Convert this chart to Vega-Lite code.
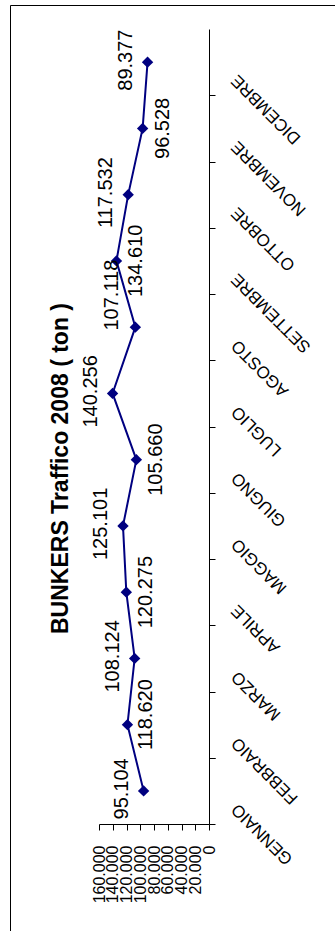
{
  "$schema": "https://vega.github.io/schema/vega-lite/v6.json",
  "width": 326,
  "height": 927,
  "autosize": {"type": "none"},
  "padding": {"left": 10, "top": 5, "right": -1, "bottom": -1},
  "background": "white",
  "config": {
    "locale": {"number": {"decimal": ",", "thousands": ".", "grouping": [3], "currency": ["€", ""]}},
    "view": {"stroke": "black", "strokeWidth": 1},
    "font": "Liberation Sans"
  },
  "title": {"text": "BUNKERS Traffico 2008 ( ton )", "orient": "left", "anchor": "middle", "offset": -63, "fontSize": 23, "fontWeight": "bold", "font": "Liberation Sans", "color": "black"},
  "data": {"values": [
    {"month": "GENNAIO", "value": 95104},
    {"month": "FEBBRAIO", "value": 118620},
    {"month": "MARZO", "value": 108124},
    {"month": "APRILE", "value": 120275},
    {"month": "MAGGIO", "value": 125101},
    {"month": "GIUGNO", "value": 105660},
    {"month": "LUGLIO", "value": 140256},
    {"month": "AGOSTO", "value": 107118},
    {"month": "SETTEMBRE", "value": 134610},
    {"month": "OTTOBRE", "value": 117532},
    {"month": "NOVEMBRE", "value": 96528},
    {"month": "DICEMBRE", "value": 89377}
  ]},
  "encoding": {
    "y": {
      "field": "month", "type": "nominal", "sort": null,
      "scale": {"type": "band", "domain": ["GENNAIO","FEBBRAIO","MARZO","APRILE","MAGGIO","GIUGNO","LUGLIO","AGOSTO","SETTEMBRE","OTTOBRE","NOVEMBRE","DICEMBRE"], "range": [24, 819], "reverse": true, "paddingInner": 0, "paddingOuter": 0},
      "axis": {"orient": "right", "offset": -127, "title": null, "domainColor": "black", "tickColor": "black", "tickSize": 6, "tickBand": "extent", "labelAngle": 225, "labelAlign": "right", "labelBaseline": "middle", "labelFontSize": 17, "labelColor": "black", "labelPadding": 19, "labelOffset": 15, "grid": false, "labelFont": "Liberation Sans", "labelOverlap": false, "labelBound": false}
    },
    "x": {
      "field": "value", "type": "quantitative",
      "scale": {"domain": [0, 160000], "range": [89, 199], "reverse": true},
      "axis": {"orient": "bottom", "offset": -108, "title": null, "values": [0,20000,40000,60000,80000,100000,120000,140000,160000], "format": ",.0f", "labelAngle": 270, "labelAlign": "right", "labelBaseline": "middle", "labelFontSize": 16, "labelPadding": 15, "tickSize": 6, "domainColor": "black", "tickColor": "black", "labelColor": "black", "grid": false, "labelOverlap": false, "labelBound": false, "labelFlush": false, "labelFont": "Liberation Sans"}
    }
  },
  "layer": [
    {"mark": {"type": "line", "color": "#000080", "strokeWidth": 2}},
    {"mark": {"type": "point", "shape": "diamond", "filled": true, "color": "#000080", "size": 130, "opacity": 1}},
    {
      "transform": [{"filter": {"field": "month", "oneOf": ["GENNAIO","MARZO","MAGGIO","LUGLIO","OTTOBRE","DICEMBRE"]}}],
      "mark": {"type": "text", "angle": 270, "dy": -22, "dx": 2, "fontSize": 20, "align": "center", "baseline": "middle", "color": "black", "font": "Liberation Sans"},
      "encoding": {"text": {"field": "value", "type": "quantitative", "format": ",.0f"}}
    },
    {
      "transform": [{"filter": {"field": "month", "oneOf": ["AGOSTO"]}}],
      "mark": {"type": "text", "angle": 270, "dy": -23, "dx": 32, "fontSize": 20, "align": "center", "baseline": "middle", "color": "black", "font": "Liberation Sans"},
      "encoding": {"text": {"field": "value", "type": "quantitative", "format": ",.0f"}}
    },
    {
      "transform": [{"filter": {"field": "month", "oneOf": ["APRILE","GIUGNO","SETTEMBRE","NOVEMBRE"]}}],
      "mark": {"type": "text", "angle": 270, "dy": 20, "dx": 0, "fontSize": 20, "align": "center", "baseline": "middle", "color": "black", "font": "Liberation Sans"},
      "encoding": {"text": {"field": "value", "type": "quantitative", "format": ",.0f"}}
    },
    {
      "transform": [{"filter": {"field": "month", "oneOf": ["FEBBRAIO"]}}],
      "mark": {"type": "text", "angle": 270, "dy": 19, "dx": 10, "fontSize": 20, "align": "center", "baseline": "middle", "color": "black", "font": "Liberation Sans"},
      "encoding": {"text": {"field": "value", "type": "quantitative", "format": ",.0f"}}
    }
  ]
}
